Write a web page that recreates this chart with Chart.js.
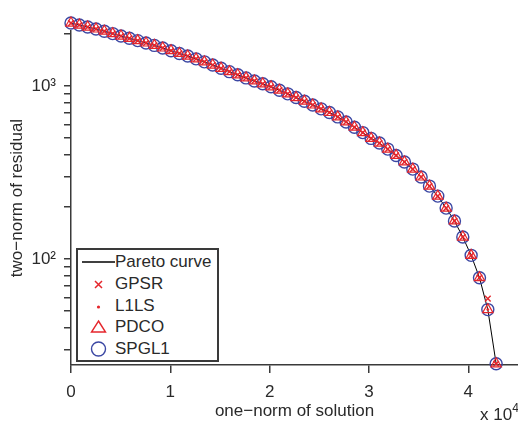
<!DOCTYPE html>
<html>
<head>
<meta charset="utf-8">
<script src="https://cdn.jsdelivr.net/npm/chart.js@4/dist/chart.umd.min.js"></script>
<style>
  body { margin: 0; background: #fff; }
  #wrap { position: relative; width: 518px; height: 422px; overflow: hidden; font-family: "Liberation Sans", Arial, sans-serif; color: #2a2a2a; }
  #legend { position: absolute; left: 76px; top: 248px; width: 139px; height: 110px; border: 2px solid #3a3a3a; background: #fff; }
  #legend svg { position: absolute; left: 0; top: 0; }
  #legend span { position: absolute; left: 37px; font-size: 17px; line-height: 20px; }
  #expo { position: absolute; left: 480px; top: 406px; font-size: 17px; line-height: 17px; white-space: nowrap; }
  #expo sup { font-size: 12px; line-height: 0; position: relative; top: -1px; }
</style>
</head>
<body>
<div id="wrap">
  <canvas id="pareto" width="518" height="422"></canvas>
  <div id="legend">
    <svg width="139" height="110">
      <line x1="4" y1="12" x2="37" y2="12" stroke="#000" stroke-width="1.3"/>
      <path d="M17 31 l7 7 M24 31 l-7 7" stroke="#e5262c" stroke-width="1.5"/>
      <circle cx="20.5" cy="57" r="1.6" fill="#e5262c"/>
      <path d="M20.5 71 l7 11 l-14 0 z" fill="none" stroke="#e5262c" stroke-width="1.4"/>
      <circle cx="20.5" cy="99" r="7" fill="none" stroke="#3b47a3" stroke-width="1.4"/>
    </svg>
    <span style="top:2px">Pareto curve</span>
    <span style="top:24px">GPSR</span>
    <span style="top:46px">L1LS</span>
    <span style="top:67px">PDCO</span>
    <span style="top:89px">SPGL1</span>
  </div>
  <div id="expo">x 10<sup>4</sup></div>
</div>
<script>
// one-norm of solution (tau) for every point on the curve
const oneNorm = [0, 839, 1678, 2518, 3357, 4196, 5035, 5875, 6714, 7553, 8392, 9231, 10071, 10910, 11749,
  12588, 13427, 14267, 15106, 15945, 16784, 17624, 18463, 19302, 20141, 20980, 21820, 22659, 23498, 24337,
  25176, 26016, 26855, 27694, 28533, 29373, 30212, 31051, 31890, 32729, 33569, 34408, 35247, 36086, 36925,
  37765, 38604, 39443, 40282, 41122, 41961, 42800];

// two-norm of residual
const paretoResidual = [2312, 2252, 2193, 2136, 2074, 2009, 1945, 1887, 1830, 1773, 1717, 1659, 1600, 1543, 1490,
  1436, 1380, 1322, 1266, 1211, 1161, 1114, 1070, 1030, 990, 946, 901, 858, 817, 777,
  738, 703, 663, 620, 578, 538, 498, 468, 432, 397, 364, 331, 298, 264, 231,
  197, 166, 134, 105, 78, 51, 24.8];

const gpsrResidual = [2312, 2252, 2193, 2136, 2074, 2009, 1945, 1887, 1830, 1773, 1717, 1659, 1600, 1543, 1490,
  1436, 1380, 1322, 1266, 1211, 1161, 1114, 1070, 1030, 990, 946, 901, 858, 817, 777,
  738, 703, 663, 620, 578, 538, 498, 468, 432, 397, 364, 331, 298, 264, 231,
  197, 166, 134, 105, 78, 59, 24.8];
const l1lsResidual = paretoResidual.slice();
const pdcoResidual = paretoResidual.slice();
const spgl1Residual = paretoResidual.slice();

const xTicks = [0, 10000, 20000, 30000, 40000];
const yTicks = [30, 40, 50, 60, 70, 80, 90, 100, 200, 300, 400, 500, 600, 700, 800, 900, 1000, 2000];
const yLabels = { 100: '10²', 1000: '10³' };

const red = '#e5262c';
const blue = '#3b47a3';
const ink = '#2a2a2a';
const font = { family: '"Liberation Sans", Arial, sans-serif', size: 17 };

const pts = (ys) => oneNorm.map((x, i) => ({ x: x, y: ys[i] }));

// the first markers sit above the axis top, so let them draw there too
const overTop = {
  id: 'overTop',
  beforeDatasetsDraw(chart) { chart.chartArea.top -= 20; },
  afterDatasetsDraw(chart) { chart.chartArea.top += 20; }
};

new Chart(document.getElementById('pareto'), {
  type: 'line',
  data: {
    datasets: [
      { label: 'Pareto curve', data: pts(paretoResidual), borderColor: '#000', borderWidth: 1, pointRadius: 0, order: 5, clip: false },
      { label: 'SPGL1', data: pts(spgl1Residual), showLine: false, pointStyle: 'circle', pointRadius: 6,
        borderColor: blue, backgroundColor: 'rgba(0,0,0,0)', pointBorderWidth: 1.4, order: 4, clip: false },
      { label: 'PDCO', data: pts(pdcoResidual), showLine: false, pointStyle: 'triangle', pointRadius: 6,
        borderColor: red, backgroundColor: 'rgba(0,0,0,0)', pointBorderWidth: 1.2, order: 3, clip: false },
      { label: 'L1LS', data: pts(l1lsResidual), showLine: false, pointStyle: 'circle', pointRadius: 1.4,
        borderColor: red, backgroundColor: red, pointBorderWidth: 0, order: 2, clip: false },
      { label: 'GPSR', data: pts(gpsrResidual), showLine: false, pointStyle: 'crossRot', pointRadius: 4,
        borderColor: red, pointBorderWidth: 1.4, order: 1, clip: false }
    ]
  },
  plugins: [overTop],
  options: {
    responsive: false,
    animation: false,
    devicePixelRatio: 1,
    layout: { autoPadding: false, padding: { top: 31, right: 0, left: 0, bottom: 0 } },
    plugins: { legend: { display: false }, tooltip: { enabled: false } },
    scales: {
      x: {
        type: 'linear',
        min: 0,
        max: 45000,
        afterBuildTicks: (scale) => { scale.ticks = xTicks.map(v => ({ value: v })); },
        afterFit: (scale) => { scale.height = 57; },
        border: { display: true, color: '#3a3a3a', width: 1.5 },
        grid: { drawOnChartArea: false, tickLength: 8, color: '#3a3a3a', lineWidth: 1.5 },
        ticks: { color: ink, font: font, padding: 9, maxRotation: 0, callback: (v) => String(v / 10000) },
        title: { display: true, text: 'one−norm of solution', color: ink, font: font, padding: { top: -16, bottom: 0 } }
      },
      y: {
        type: 'logarithmic',
        min: 24.4,
        max: 2080,
        afterBuildTicks: (scale) => { scale.ticks = yTicks.map(v => ({ value: v })); },
        afterFit: (scale) => { scale.width = 71; },
        border: { display: true, color: '#3a3a3a', width: 1.5 },
        grid: { drawOnChartArea: false, tickLength: 7, color: '#3a3a3a', lineWidth: 1.5 },
        ticks: { color: ink, font: font, padding: 8, autoSkip: false, callback: (v) => yLabels[v] || '' },
        title: { display: true, text: 'two−norm of residual', color: ink, font: font, padding: { top: 7, bottom: 0 } }
      }
    }
  }
});
</script>
</body>
</html>
